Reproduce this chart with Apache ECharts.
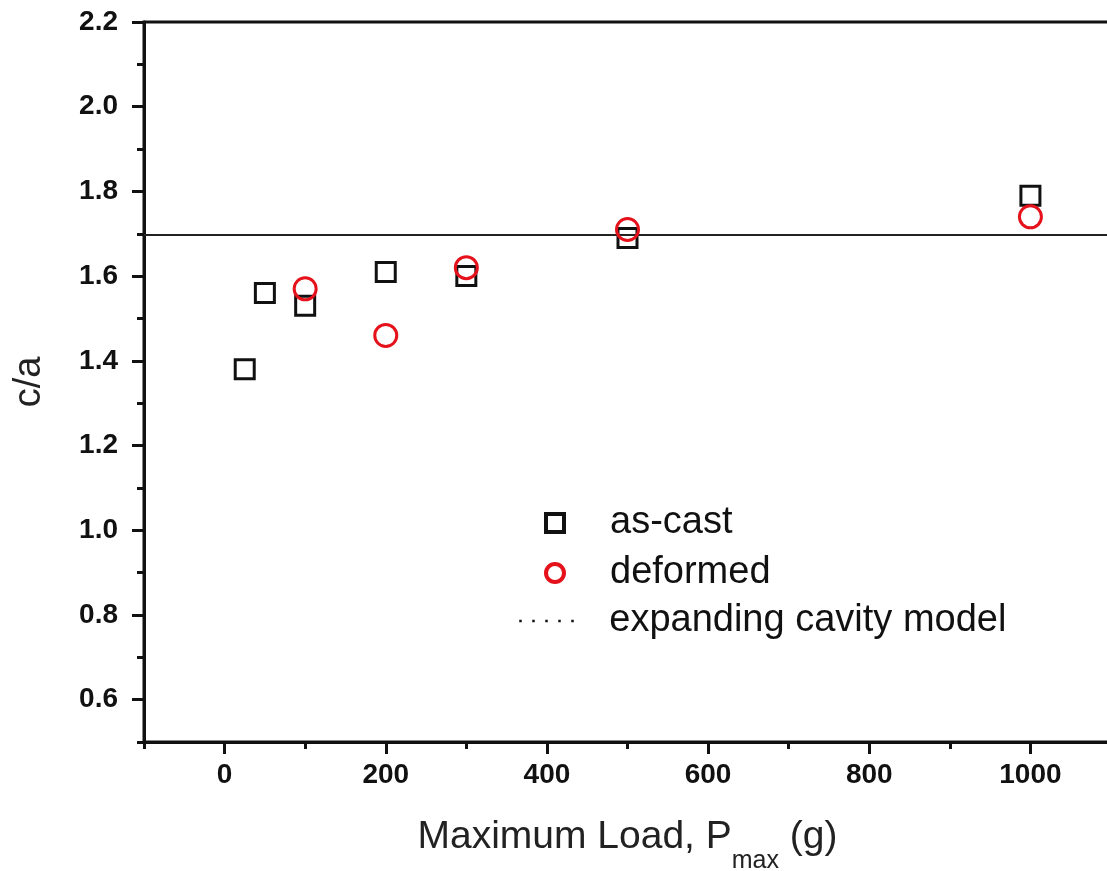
<!DOCTYPE html>
<html>
<head>
<meta charset="utf-8">
<title>c/a vs maximum load</title>
<script src="https://cdn.jsdelivr.net/npm/echarts@6/dist/echarts.min.js"></script>
</head>
<body style="margin:0">
<div id="main" style="width:1107px;height:871px;"></div>
<script>
// measured points
var loadAsCast = [25, 50, 100, 200, 300, 500, 1000];
var caAsCast = [1.38, 1.56, 1.53, 1.61, 1.60, 1.69, 1.79];
var loadDeformed = [100, 200, 300, 500, 1000];
var caDeformed = [1.57, 1.46, 1.62, 1.71, 1.74];
// expanding cavity model (constant)
var modelLoad = [-100, 1100];
var modelCa = [1.697, 1.697];
// tick values
var xMajorTicks = [0, 200, 400, 600, 800, 1000];
var xMinorTicks = [-100, 100, 300, 500, 700, 900, 1100];
var yMajorTicks = [0.6, 0.8, 1.0, 1.2, 1.4, 1.6, 1.8, 2.0, 2.2];
var yMinorTicks = [0.5, 0.7, 0.9, 1.1, 1.3, 1.5, 1.7, 1.9, 2.1];

function zip(xs, ys) {
  return xs.map(function (x, i) { return [x, ys[i]]; });
}

var ink = '#111';
var red = '#e5121b';
var font = '"Liberation Sans", Arial, sans-serif';
var legendText = { fontSize: 38, fontFamily: font, color: ink, lineHeight: 37 };

var chart = echarts.init(document.getElementById('main'));

var option = {
  animation: false,
  grid: {
    left: 144, top: 22, width: 967, height: 720,
    show: true, borderColor: ink, borderWidth: 3,
    outerBoundsMode: 'none'
  },
  legend: [
    {
      // markers
      orient: 'vertical',
      left: 539, top: 499,
      itemWidth: 18, itemHeight: 18, itemGap: 12,
      selectedMode: false,
      textStyle: Object.assign({ padding: [0, 0, 0, 41] }, legendText),
      data: [
        { name: 'as-cast', itemStyle: { color: 'transparent', borderColor: ink, borderWidth: 4 } },
        { name: 'deformed', itemStyle: { color: 'transparent', borderColor: red, borderWidth: 4 } }
      ]
    },
    {
      // model line
      orient: 'vertical',
      left: 513, top: 597,
      itemWidth: 62, itemHeight: 18,
      selectedMode: false,
      textStyle: Object.assign({ padding: [0, 0, 0, 23] }, legendText),
      data: [
        { name: 'expanding cavity model', itemStyle: { opacity: 0 }, lineStyle: { type: [2.5, 10.5], width: 2.5, color: ink } }
      ]
    }
  ],
  xAxis: [
    {
      type: 'value', min: -100, max: 1100, position: 'bottom',
      axisLine: { show: true, onZero: false, lineStyle: { color: ink, width: 3 } },
      axisTick: { customValues: xMajorTicks, length: 12, lineStyle: { color: ink, width: 3 } },
      axisLabel: {
        customValues: xMajorTicks, margin: 19, fontSize: 28, fontWeight: 'bold',
        fontFamily: font, color: ink,
        formatter: function (v) { return String(v); }
      },
      splitLine: { show: false },
      name: '{a|Maximum Load, P}{s|max}{a| (g)}',
      nameLocation: 'middle', nameGap: 76,
      nameTextStyle: {
        rich: {
          a: { fontSize: 39, fontFamily: font, color: '#222', verticalAlign: 'top', lineHeight: 46 },
          s: { fontSize: 25, fontFamily: font, color: '#222', verticalAlign: 'top', lineHeight: 25, padding: [31, 0, 0, 0] }
        }
      }
    },
    {
      type: 'value', min: -100, max: 1100, position: 'bottom',
      axisLine: { show: false, onZero: false },
      axisTick: { customValues: xMinorTicks, length: 7, lineStyle: { color: ink, width: 3 } },
      axisLabel: { show: false },
      splitLine: { show: false }
    }
  ],
  yAxis: [
    {
      type: 'value', min: 0.5, max: 2.2, position: 'left',
      axisLine: { show: true, onZero: false, lineStyle: { color: ink, width: 3 } },
      axisTick: { customValues: yMajorTicks, length: 12, lineStyle: { color: ink, width: 3 } },
      axisLabel: {
        customValues: yMajorTicks, margin: 26, fontSize: 28, fontWeight: 'bold',
        fontFamily: font, color: ink,
        formatter: function (v) { return v.toFixed(1); }
      },
      splitLine: { show: false },
      name: 'c/a', nameLocation: 'middle', nameGap: 95,
      nameTextStyle: { fontSize: 38, fontFamily: font, color: '#222' }
    },
    {
      type: 'value', min: 0.5, max: 2.2, position: 'left',
      axisLine: { show: false, onZero: false },
      axisTick: { customValues: yMinorTicks, length: 7, lineStyle: { color: ink, width: 3 } },
      axisLabel: { show: false },
      splitLine: { show: false }
    }
  ],
  series: [
    {
      name: 'expanding cavity model', type: 'line',
      data: zip(modelLoad, modelCa),
      symbol: 'none',
      lineStyle: { color: '#222', width: 2 },
      z: 1
    },
    {
      name: 'as-cast', type: 'scatter',
      data: zip(loadAsCast, caAsCast),
      symbol: 'rect', symbolSize: 19,
      itemStyle: { color: 'transparent', borderColor: ink, borderWidth: 3, opacity: 1 },
      z: 2
    },
    {
      name: 'deformed', type: 'scatter',
      data: zip(loadDeformed, caDeformed),
      symbol: 'circle', symbolSize: 22,
      itemStyle: { color: 'transparent', borderColor: red, borderWidth: 3, opacity: 1 },
      z: 3
    }
  ]
};

chart.setOption(option);
</script>
</body>
</html>
